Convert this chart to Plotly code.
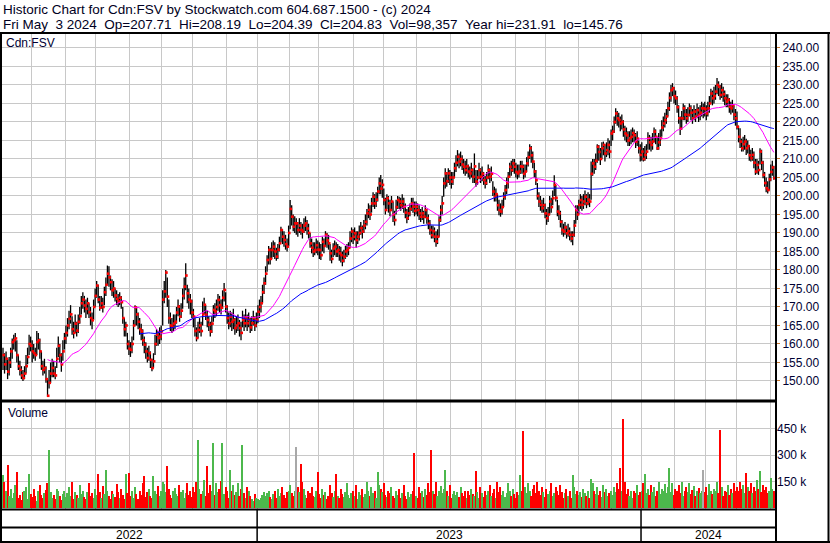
import pandas as pd
import plotly.graph_objects as go

# ---------------- data ----------------
close = [
157, 154.5, 156, 152.5, 155, 158, 160.5, 161, 161.5, 157,
154, 153, 151.5, 150.8, 152, 154, 156.5, 160, 159.5, 158,
157.5, 157, 160.5, 161, 158, 154, 153, 153.5, 150.5, 146,
149.5, 152, 153.5, 152, 151.5, 156, 159.5, 157, 154.5, 158,
161.5, 163, 165, 166.8, 168, 164, 163, 165.5, 163.6, 166,
167.5, 171, 172, 170.4, 169.5, 171, 168.6, 167, 166.4, 170,
173, 175.8, 172, 169.8, 171, 170, 174, 176, 179, 178,
176.7, 174.5, 175, 173.1, 172.2, 171.5, 172.5, 171.3, 167, 164,
165, 160, 158.7, 158.4, 160, 165, 169.9, 168, 166, 164,
163.4, 161, 159.8, 158, 156.2, 157.5, 155.7, 153.5, 155.3, 160,
162.5, 161.6, 162, 163.4, 172, 174.2, 179.3, 172.8, 167, 165,
164.7, 165.5, 166, 168.5, 170.1, 167.4, 169, 173, 175.5, 178.5,
173.7, 172, 171.5, 168.5, 167.4, 163.5, 161.6, 163.8, 165, 163.5,
168, 170.6, 167.9, 166.5, 165.2, 163.4, 165.5, 169.2, 168.8, 170,
171.9, 170.5, 169.8, 172.5, 174.6, 170.1, 167, 165.6, 167.4, 166,
166.5, 164.3, 165, 165.6, 164.3, 163, 166.5, 165.6, 167, 165.6,
166.5, 164.5, 165.6, 167, 165, 166.5,
168.7, 170, 171, 174, 176.4, 179, 182.7, 185.4, 183, 185.4,
186.3, 185, 183.6, 185.5, 187.2, 190.8, 189, 188.1, 187, 186.3,
190, 196.5, 194.4, 191.7, 192.6, 192.6, 190.8, 192, 190.8, 190.4,
192, 192.6, 191.2, 190, 187.2, 186, 185, 185.4, 186.7, 185.5,
185.4, 184, 187.6, 186.5, 189.5, 188, 187.2, 184.5, 183, 185.8,
186.3, 185, 185.4, 184.5, 184, 182.5, 183.6, 185, 185.4, 186,
188.5, 190.4, 189, 189.9, 188.1, 189, 190, 191.3, 190.4, 192,
193, 195.3, 196.2, 195, 198, 199.8, 198, 199, 201.2, 203.4,
202, 203, 198.9, 196.2, 199.4, 198, 196.2, 198.5, 195, 193.5,
197, 198.9, 198.5, 197.5, 198.5, 197.1, 195.5, 194, 195.3, 196.5,
198, 197.1, 196, 197.1, 196.2, 195.3, 194.4, 195.3, 194.4, 196.2,
194, 192.5, 190.8, 189.4, 190.5, 189, 187.7, 189, 193.5, 196.2,
198, 203.4, 206.1, 204, 206.1, 205, 203.9, 205, 207.5, 209,
210.6, 209.3, 210, 208.5, 207.9, 207, 208, 206.6, 206.1, 207,
205.2, 208, 203.9, 205, 207, 205.2, 206, 204.3, 203.5, 205,
207, 205.2, 206, 201.2, 199.8, 200.5, 197.5, 196.2, 195.8, 197,
199.8, 201.6, 203.5, 205.2, 207.9, 207, 208.8, 207.9, 206.5, 206.1,
206.6, 208, 207.9, 206, 206.6, 208.8, 210.5, 212.9, 211, 209.3,
206.6, 204.3, 200, 198.5, 197.6, 196.7, 197.5, 195.3, 194, 195,
198.5, 197, 199.4, 203, 199.5, 195.8, 195.3, 193, 190.8, 190.4,
191.5, 189.9, 190.5, 189.5, 188.5, 189.5, 192, 196.2, 195, 197.6,
198.9, 197.6, 198.5, 199.8, 198, 199, 198.5, 206, 208.8, 207.9,
209.5, 213.3, 211.9, 210, 212.9, 213.8, 211.5, 212.4, 213.8, 212,
216.9, 217.4, 220, 222.3, 221, 220.5, 219.6, 220, 218, 216.9,
216.4, 215, 215.6, 216, 217, 216.4, 214.7, 215.5, 212.9, 211.1,
212, 210, 211.1, 212, 215.6, 214.5, 213.8, 214.7, 217.4, 216,
212.9, 214.5, 215.6, 218.5, 219.6, 220.5, 221.5, 223.7, 226.5, 228.6,
229.1, 227, 226.4, 224, 221, 218.2, 221, 223.7, 222, 221,
221.9, 223.7, 222.5, 221, 222.8, 221.5, 223.2, 221.9, 222.5, 223.7,
223.7, 223.5, 222.3, 223.7, 225, 227.7, 226.4, 227, 228.2, 230,
229.5, 227.3, 228.6, 227.5, 226.4, 225.5, 226, 224.1, 223.7, 224.5,
222, 221, 218.7, 216, 214.7, 212.9, 214, 214.7, 212.9, 213.5,
211, 210.2, 211.1, 209, 206.6, 208.4, 207, 212, 209, 205.7,
203.5, 202.1, 201.6, 204.5, 206.5, 207.7, 204.83,
]

high = [
159, 157.5, 158, 156, 156.5, 159, 161.5, 162.5, 163, 161,
157, 155.5, 154, 153, 154, 157, 159, 162.5, 162, 161,
160, 159, 163.5, 163, 161.5, 158, 155.5, 156, 154, 150.5,
153, 155, 156, 155.5, 154, 159, 162, 160, 157.5, 161,
163, 165, 167, 169, 170.5, 167.5, 166, 168, 166, 168,
170, 173, 174, 173, 172, 172.5, 171, 170, 168.5, 172,
175, 177, 176, 173, 173, 172.5, 175.5, 178, 181.2, 181,
178.5, 177.5, 177, 175, 174.5, 173.5, 174, 173, 170, 167,
166, 163, 161, 160.5, 162, 166.5, 170.5, 170, 168.5, 167,
165.5, 164, 162, 160.5, 159, 159.5, 158, 156, 157.5, 162.5,
164, 163.5, 164.5, 165, 174.5, 177, 180, 178, 172, 168.5,
167, 168, 168, 170, 172, 170.5, 171, 175, 178, 181.8,
176, 175, 173.5, 172, 169.5, 167, 164.5, 166, 167, 166,
171.5, 172.5, 170.5, 169, 167.5, 166, 167.5, 170.5, 171, 172,
173.5, 173, 172, 174.5, 176.5, 174, 170.5, 168.5, 169, 168.5,
169.5, 167, 167.5, 168, 166.5, 166, 169, 168, 169.5, 168,
168.5, 167, 167.5, 169, 167.5, 168.5,
170.5, 172, 173, 176, 178, 181, 184, 186.5, 186, 187.5,
188, 187.5, 186, 187, 189, 191.7, 191, 190.5, 189.5, 188.5,
192, 198.9, 197.5, 195, 194.5, 194, 193, 194, 193, 192.5,
194, 194.5, 193.5, 192.5, 190, 188.5, 187.5, 187.5, 188.5, 188,
187.5, 187, 189, 188.5, 190.5, 190, 189.5, 187, 185.5, 187.2,
188, 187.5, 187, 186.5, 186.3, 185, 185.5, 186.5, 187, 187.5,
190.5, 191.5, 191, 191.5, 190.5, 190.5, 192, 193, 192, 193.5,
195, 196.5, 198, 197.5, 199.5, 201, 200.5, 201, 202.5, 205,
205.7, 204.5, 202, 199.5, 200.5, 200, 199, 200, 198.5, 196,
199, 200, 199.8, 199.5, 200.5, 199.5, 198, 196.5, 197, 198,
199.5, 199.5, 198.5, 198.5, 198, 197.5, 196.5, 197, 196, 197.5,
196.5, 195, 193.5, 192, 192, 191.5, 190.5, 191, 194.5, 197.5,
200, 205, 207.5, 206.5, 207.5, 207, 206.5, 206.5, 209, 211,
212.4, 211.5, 212, 211, 210, 209.5, 210, 208.5, 208, 209,
207.5, 211.5, 207, 207, 209, 207.5, 208, 206.5, 205.5, 206.5,
208.5, 207.5, 208, 204, 202.5, 202, 200.5, 199, 198, 199,
201, 203, 205, 206.5, 209, 209.5, 210, 210, 209, 208.5,
208.5, 209.5, 209.5, 208.5, 208.5, 210.5, 212, 214, 213.5, 212,
209, 207, 203.5, 201, 200, 199, 199.5, 198, 196.5, 197,
200, 199.5, 201.5, 205.6, 203, 199, 197.5, 196, 193.5, 192.5,
193, 192, 192.5, 191.5, 190.5, 190.5, 193.5, 197.5, 197.5, 199,
200.5, 200, 200.5, 201.5, 200.5, 201, 200.5, 209.3, 210, 210,
211.5, 214, 213.8, 213, 214.5, 214.7, 214, 214.5, 215.6, 215,
218, 219, 221.5, 223.7, 223, 222.5, 221.5, 222, 220.5, 219,
218.5, 217.5, 217.5, 218, 218.5, 218, 217, 217.5, 215, 214,
214.5, 213, 213.5, 214, 217.2, 216.5, 216, 217, 218.5, 218,
216, 217, 218, 220.5, 221.5, 222.5, 223.5, 225.5, 228, 230,
230.5, 229.5, 228.5, 227, 224.5, 221.5, 223, 225, 224.5, 223.5,
224, 225, 224.5, 223.5, 224.5, 223.5, 225, 224, 224.5, 225.5,
225, 225.5, 224.5, 225.5, 227, 229, 228.5, 229.5, 230, 231.91,
231, 230, 230.5, 229.5, 228.5, 227.5, 227.5, 226.5, 225.5, 226,
224.5, 223.5, 222.8, 219, 218.3, 215.5, 216, 216.5, 215.5, 215,
213.8, 212.5, 213, 212, 210, 210, 209.5, 212.9, 212.5, 209.5,
206.5, 205, 204, 206, 208.5, 209.5, 208.19,
]

low = [
153, 152, 153, 150.5, 151.5, 153.5, 156, 158.5, 158, 155,
153, 151.5, 150.5, 150, 150.5, 152, 154.5, 157, 158, 155,
156, 155.5, 157, 158.5, 156, 153, 151.5, 152, 149.5, 145.76,
148, 149.5, 151, 151, 150.5, 153.5, 156.5, 155, 152.5, 155.5,
158.5, 160, 162, 164, 165.5, 162.5, 161.5, 163, 162, 163,
165.5, 168, 169.5, 168.5, 167, 168, 167, 165, 164, 166.5,
170, 172.5, 171, 169, 169.5, 168.5, 170.5, 173, 176, 175.5,
174.5, 173, 172.5, 171.5, 170.5, 170, 170.5, 169.5, 165.5, 162,
162, 158.5, 157, 156.5, 157.5, 161, 165, 165, 164, 162.5,
161, 159.5, 157.5, 156, 155, 155.5, 153.5, 152.6, 153.5, 157,
159.5, 159.5, 160, 161, 165, 171, 172.5, 170, 165.5, 163.5,
163, 163.5, 164, 165.5, 167.5, 166, 167, 169.5, 172, 174.5,
171, 169.5, 168, 167, 164.5, 162, 160.7, 161.5, 163, 162,
165, 168, 166.5, 164.5, 163.5, 162, 163, 166, 167, 167.5,
169, 168.5, 168, 169.5, 171.5, 168.5, 165.5, 164, 164.5, 163.5,
164, 162.5, 163, 163.5, 162, 161, 164.5, 163.5, 164.5, 163.5,
164.5, 163, 163.5, 165, 163.5, 164.5,
165.6, 167, 168.5, 171, 173.5, 176, 179.5, 181.5, 181.5, 183,
183.5, 183, 182.5, 183, 185, 187.5, 187, 186.3, 185.5, 185,
186.5, 191, 192, 190.5, 190, 189.5, 189, 190, 189.5, 188.5,
190, 190.5, 189.5, 188.5, 186, 184.5, 183.5, 184, 184.5, 184,
183, 182.7, 185, 184.5, 186.5, 186, 185.5, 182.5, 181.8, 183.5,
184, 183.5, 183.5, 182.5, 182, 181, 182, 183, 183.5, 184,
186, 187.5, 187, 188, 186, 187, 188, 189.5, 188.5, 190,
191, 192, 194, 193.5, 195.5, 197, 196.5, 197, 198.5, 200.5,
200.5, 199.5, 197.5, 195, 196.5, 195.5, 194.5, 196, 193, 192,
195, 196.5, 196.5, 196, 196.5, 195.5, 194, 192.6, 193.5, 194.5,
196, 195.5, 194.5, 195, 194.5, 193.5, 193, 193.5, 192.5, 194,
192.5, 191, 189.5, 188.5, 188.5, 187.5, 186.3, 187, 189, 193,
195, 199.8, 202, 202.5, 203.5, 203, 202, 203, 205, 206.5,
208, 207.5, 208, 207, 206, 205.5, 206, 205, 204.5, 205,
203.5, 203.5, 202.5, 203, 204.5, 203.5, 204, 203, 202, 203,
204.5, 203.5, 204, 200, 198.5, 198.5, 196, 194.8, 194.4, 195,
197, 199, 200.5, 202, 205, 205.5, 206.5, 206, 205, 204.5,
205, 206, 206, 204.5, 205, 206.5, 208, 210, 209, 207.5,
205, 203, 199, 197, 196, 195.5, 195.5, 194, 192.2, 193,
195, 195.5, 197.5, 200, 198.5, 194.5, 193.5, 191.5, 189.5, 189,
189.5, 188.5, 189, 188, 187.5, 186.7, 189, 192.5, 193.5, 195,
196.5, 196, 196.5, 197.5, 196.7, 197.5, 197, 199, 205.5, 206,
207, 209, 209.5, 208.4, 210, 211, 209.3, 210.5, 211, 210.2,
213.5, 215, 217, 219.5, 219, 218.5, 217.5, 218, 216, 215,
214.5, 213.5, 213.5, 214, 214.5, 214.5, 213, 213.5, 211.5, 209.3,
209.5, 209.3, 209.5, 210, 212.5, 212.5, 212, 212.5, 214.5, 214,
212.4, 212.5, 213.5, 216, 217.5, 218.5, 219.5, 221.5, 223, 225.5,
227, 225, 224.6, 222.5, 219.5, 216.5, 218, 220.5, 220.5, 219.5,
220, 221.5, 220.5, 219.5, 220.5, 220, 221, 220, 220.5, 221.5,
221, 221.5, 220.5, 221.5, 222.5, 225, 224.5, 225, 226, 227.5,
227, 226, 226.5, 225.5, 224.5, 224, 224, 222.5, 222, 222.5,
220.5, 219, 218, 214.5, 213, 212, 212, 212.5, 211.1, 211.5,
209.5, 209.3, 209.5, 207.5, 205.7, 206, 205.7, 208.5, 207, 204.8,
202.5, 201, 200.7, 201.5, 204, 205.5, 204.39,
]

volume_k = [
190, 150, 95, 244, 70, 110, 60, 85, 130, 206,
60, 75, 45, 90, 100, 120, 55, 195, 80, 65,
110, 70, 40, 95, 130, 75, 60, 85, 105, 140,
330, 90, 60, 75, 50, 110, 95, 70, 45, 80,
100, 65, 85, 120, 70, 150, 55, 90, 75, 60,
130, 80, 100, 65, 50, 90, 140, 70, 85, 60,
110, 75, 195, 90, 60, 125, 80, 219, 95, 70,
55, 100, 80, 65, 135, 90, 60, 110, 75, 50,
195, 85, 200, 70, 95, 60, 120, 80, 55, 100,
75, 140, 185, 65, 90, 110, 70, 60, 180, 95,
80, 125, 70, 100, 150, 135, 90, 238, 110, 75,
60, 95, 115, 80, 70, 130, 90, 105, 60, 85,
140, 75, 100, 65, 120, 90, 150, 385, 110, 80,
95, 160, 70, 240, 85, 130, 100, 369, 75, 140,
90, 110, 155, 370, 80, 120, 95, 60, 215, 100,
130, 75, 90, 145, 70, 110, 356, 85, 60, 120,
95, 70, 55, 40, 80, 60,
50, 45, 60, 75, 90, 70, 85, 100, 65, 55,
80, 95, 60, 110, 70, 85, 120, 75, 60, 90,
100, 130, 85, 70, 95, 346, 120, 90, 248, 150,
110, 75, 60, 95, 85, 120, 70, 65, 100, 205,
80, 60, 110, 75, 90, 55, 70, 130, 85, 65,
95, 195, 70, 60, 110, 80, 65, 90, 140, 75,
60, 85, 100, 70, 130, 55, 90, 75, 110, 65,
80, 150, 95, 70, 120, 85, 100, 60, 205, 130,
110, 90, 140, 75, 65, 100, 85, 120, 70, 60,
95, 75, 110, 60, 85, 130, 70, 55, 90, 65,
80, 100, 311, 70, 60, 120, 85, 95, 65, 110,
75, 140, 90, 327, 100, 80, 150, 70, 95, 125,
85, 110, 215, 95, 70, 130, 60, 80, 100, 75,
90, 65, 120, 85, 70, 100, 60, 95, 75, 110,
80, 70, 210, 90, 60, 120, 85, 65, 100, 75,
95, 130, 70, 85, 110, 60, 150, 90, 120, 75,
100, 65, 85, 140, 95, 70, 110, 80, 60, 90,
75, 190, 100, 438, 120, 85, 140, 95, 70, 110,
130, 85, 150, 100, 75, 120, 90, 65, 110, 80,
95, 140, 70, 85, 120, 100, 75, 130, 90, 60,
85, 110, 70, 95, 60, 190, 120, 80, 100, 75,
90, 65, 110, 85, 70, 100, 60, 165, 140, 95,
80, 120, 75, 100, 65, 130, 90, 110, 70, 85,
100, 75, 120, 90, 140, 110, 225, 95, 504, 150,
80, 110, 70, 95, 60, 100, 85, 130, 75, 90,
100, 140, 195, 85, 110, 75, 130, 90, 120, 70,
95, 150, 80, 110, 100, 135, 85, 120, 225, 90,
140, 75, 110, 95, 130, 85, 150, 70, 100, 120,
90, 140, 80, 105, 125, 70, 95, 115, 85, 100,
215, 90, 120, 75, 135, 100, 80, 110, 95, 150,
85, 440, 120, 70, 100, 90, 130, 75, 110, 85,
140, 100, 120, 95, 150, 110, 130, 85, 200, 120,
100, 140, 85, 120, 95, 160, 110, 210, 90, 130,
105, 120, 85, 95, 170, 110, 98.357,
]

open_last = 207.71
symbol = "Cdn:FSV"
price_ticks = [150, 155, 160, 165, 170, 175, 180, 185, 190, 195, 200, 205,
               210, 215, 220, 225, 230, 235, 240]
volume_ticks = [150, 300, 450]
tsx_holidays = ["2022-05-23", "2022-07-01", "2022-08-01", "2022-09-05", "2022-10-10",
                "2022-12-26", "2022-12-27", "2023-01-02", "2023-02-20", "2023-04-07",
                "2023-05-22", "2023-07-03", "2023-08-07", "2023-09-04", "2023-10-09",
                "2023-12-25", "2023-12-26", "2024-01-01", "2024-02-19", "2024-03-29"]

# ---------------- derived ----------------
hol = set(pd.to_datetime(tsx_holidays))
dates = [d for d in pd.bdate_range("2022-05-04", "2024-05-03") if d not in hol]
n = len(close)
dates = dates[-n:]
idx = list(range(n))

s = pd.Series(close)
ma_fast = s.rolling(30).mean()
ma_slow = s.rolling(90).mean()

hl_x, hl_y = [], []
for i in idx:
    hl_x += [i, i, None]
    hl_y += [low[i], high[i], None]

GREEN, RED, GREY = "#4cb84c", "#ff0000", "#a8a8a8"
vcol = []
for i in idx:
    if i == 0 or close[i] > close[i - 1]:
        vcol.append(GREEN)
    elif close[i] < close[i - 1]:
        vcol.append(RED)
    else:
        vcol.append(GREY)

month_bounds = [i - 0.5 for i in idx[1:] if dates[i].month != dates[i - 1].month]
year_bounds = [i - 0.5 for i in idx[1:] if dates[i].year != dates[i - 1].year]
years = sorted(set(d.year for d in dates))

W, H = 830, 543
XR = [-1.3, 503.4]


def px(x):
    return x / W


def py(y):
    return (H - y) / H


fig = go.Figure()
fig.add_trace(go.Scatter(x=hl_x, y=hl_y, mode="lines",
                         line=dict(color="black", width=1.3),
                         hoverinfo="skip", xaxis="x", yaxis="y"))
fig.add_trace(go.Scatter(x=[i + 0.45 for i in idx], y=close, mode="markers",
                         marker=dict(symbol="square", size=2.6, color="#ff0000",
                                     line=dict(width=0)),
                         xaxis="x", yaxis="y"))
fig.add_trace(go.Scatter(x=idx, y=ma_fast, mode="lines",
                         line=dict(color="#ff00ff", width=1), xaxis="x", yaxis="y"))
fig.add_trace(go.Scatter(x=idx, y=ma_slow, mode="lines",
                         line=dict(color="#0000ff", width=1), xaxis="x", yaxis="y"))
fig.add_trace(go.Bar(x=idx, y=volume_k, marker=dict(color=vcol, line=dict(width=0)),
                     width=0.78, xaxis="x2", yaxis="y2"))

grid = "#c8c8c8"
tickfont = dict(family="Liberation Sans, Arial, sans-serif", size=12, color="#000033")
dom_x = [px(1), px(776)]

fig.update_layout(
    width=W, height=H, margin=dict(l=0, r=0, t=0, b=0),
    paper_bgcolor="white", plot_bgcolor="white", showlegend=False, bargap=0,
    xaxis=dict(domain=dom_x, range=XR, anchor="y", tickvals=month_bounds,
               showticklabels=False, showgrid=True, gridcolor=grid, gridwidth=1,
               zeroline=False, ticks="", showline=False, fixedrange=True),
    yaxis=dict(domain=[py(400), py(33)], range=[144.86, 244.05], side="right",
               tickvals=price_ticks, ticktext=[f"{v:.2f}" for v in price_ticks],
               showgrid=True, gridcolor=grid, gridwidth=1, zeroline=False,
               ticks="outside", ticklen=3, tickcolor="#c87830", tickfont=tickfont,
               automargin=False, showline=False),
    xaxis2=dict(domain=dom_x, range=XR, anchor="y2", tickvals=month_bounds,
                showticklabels=False, showgrid=True, gridcolor=grid, gridwidth=1,
                zeroline=False, ticks="", showline=False),
    yaxis2=dict(domain=[py(509), py(402)], range=[-4, 600], side="right",
                tickvals=volume_ticks, ticktext=[f"{v} k" for v in volume_ticks],
                showgrid=True, gridcolor=grid, gridwidth=1, zeroline=False,
                ticks="", tickfont=tickfont, automargin=False, showline=False),
)

sp = "\u00a0\u00a0"
d_last = dates[-1]
line1 = f"Historic Chart for {symbol} by Stockwatch.com 604.687.1500 - (c) {d_last.year}"
line2 = (f"{d_last.strftime('%a %b')}{sp}{d_last.day} {d_last.year}{sp}Op={open_last:.2f}{sp}"
         f"Hi={high[-1]:.2f}{sp}Lo={low[-1]:.2f}{sp}Cl={close[-1]:.2f}{sp}"
         f"Vol={round(volume_k[-1] * 1000):,}{sp}Year hi={max(high):.2f}{sp}lo={min(low):.2f}")
hdr_font = dict(family="Liberation Sans, Arial, sans-serif", size=13.5, color="#000022")
ann = [
    dict(text=line1, x=px(1), y=py(10), xref="paper", yref="paper",
         xanchor="left", yanchor="middle", showarrow=False, font=hdr_font),
    dict(text=line2, x=px(1), y=py(24), xref="paper", yref="paper",
         xanchor="left", yanchor="middle", showarrow=False, font=hdr_font),
    dict(text=symbol, x=px(4), y=py(43), xref="paper", yref="paper",
         xanchor="left", yanchor="middle", showarrow=False, font=tickfont),
    dict(text="Volume", x=px(6), y=py(413), xref="paper", yref="paper",
         xanchor="left", yanchor="middle", showarrow=False, font=tickfont),
]
edges = [XR[0]] + year_bounds + [XR[1]]
for k, yr in enumerate(years):
    ann.append(dict(text=str(yr), x=(edges[k] + edges[k + 1]) / 2, y=py(535),
                    xref="x", yref="paper", xanchor="center", yanchor="middle",
                    showarrow=False, font=dict(family="Liberation Sans, Arial",
                                               size=12, color="black")))
fig.update_layout(annotations=ann)


def hline(x0, x1, y, w=2):
    return dict(type="line", xref="paper", yref="paper", x0=px(x0), x1=px(x1),
                y0=py(y), y1=py(y), line=dict(color="black", width=w))


def vline(x, y0, y1, w=2):
    return dict(type="line", xref="paper", yref="paper", x0=px(x), x1=px(x),
                y0=py(y0), y1=py(y1), line=dict(color="black", width=w))


shapes = [
    hline(0, W, 33), vline(1, 33, H), vline(776, 33, H), vline(828.5, 33, H),
    hline(0, 776, 401, 3), hline(0, 776, 509.5), hline(0, 776, 527.5),
    hline(0, W, 542),
]
for b in year_bounds:
    shapes.append(dict(type="line", xref="x", yref="paper", x0=b, x1=b,
                       y0=py(509), y1=py(542), line=dict(color="black", width=1.5)))
fig.update_layout(shapes=shapes)

fig.write_html("out.html", config={"displayModeBar": False},
               post_script="document.body.style.margin='0';document.body.style.padding='0';")
